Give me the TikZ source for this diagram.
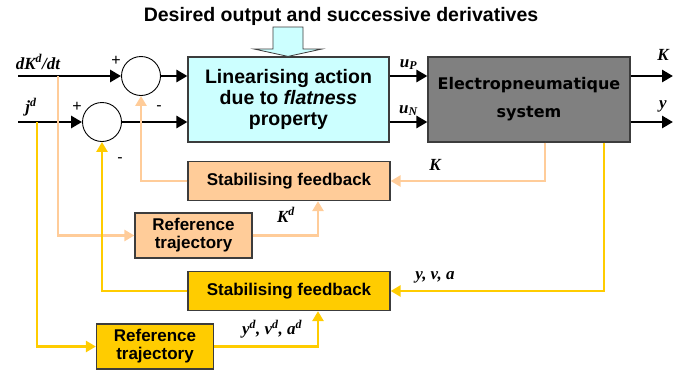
\documentclass[tikz,border=0pt]{standalone}
\usepackage{fontspec}
\setmainfont{Liberation Sans}
\newfontfamily\lblfont{Liberation Serif}
\newfontfamily\sysfont{DejaVu Sans}
\usepackage{tikz}
\usetikzlibrary{arrows.meta,positioning,calc}
\definecolor{flatcyan}{RGB}{204,255,255}
\definecolor{sysgray}{RGB}{128,128,128}
\definecolor{peachtone}{RGB}{255,204,153}
\definecolor{goldtone}{RGB}{255,204,0}
\definecolor{boxedge}{RGB}{60,60,60}

\begin{document}
\begin{tikzpicture}[
    x=1pt, y=-1pt,
    every node/.style={align=center, inner sep=0pt},
    linbox/.style={rectangle, draw=boxedge, fill=flatcyan, line width=1.2pt, minimum width=201pt, minimum height=85pt, font=\fontsize{19.5}{21}\selectfont\bfseries},
    sysbox/.style={rectangle, draw=boxedge, fill=sysgray, text=black, line width=1.2pt, minimum width=202pt, minimum height=85pt, font=\sysfont\fontsize{16}{28}\selectfont\bfseries},
    fbbox/.style={rectangle, draw=boxedge, line width=1.2pt, minimum width=202pt, minimum height=39pt, font=\fontsize{17}{19}\selectfont\bfseries},
    refbox/.style={rectangle, draw=boxedge, line width=1.2pt, minimum width=117pt, minimum height=45pt, font=\fontsize{17}{18}\selectfont\bfseries},
    sumnode/.style={circle, draw=black, line width=0.9pt, minimum size=39pt},
    blkarr/.style={-{Triangle[length=11pt,width=12pt]}, line width=2.8pt, draw=black},
    peacharr/.style={-{Triangle[length=10pt,width=11pt]}, line width=2.6pt, draw=peachtone},
    goldarr/.style={-{Triangle[length=10pt,width=11pt]}, line width=2.6pt, draw=goldtone},
    signlbl/.style={font=\fontsize{16}{16}\selectfont},
    varlbl/.style={font=\lblfont\bfseries\itshape\fontsize{17}{19}\selectfont}
]
\useasboundingbox (0,0) rectangle (674,370);

% title and hollow arrow
\node[font=\fontsize{19.5}{22}\selectfont\bfseries] (title) at (341,16) {Desired output and successive derivatives};

\node[linbox] (lin) at (288.5,99.5) {Linearising action\\due to \textit{flatness}\\property};
\node[sysbox] (elec) at (529,99.5) {Electropneumatique\\system};

\draw[boxedge, fill=flatcyan, line width=0.8pt] (273,27) -- (303,27) -- (303,49) -- (322,49) -- (lin.north -| 288,0) -- (254,49) -- (273,49) -- cycle;

% summing junctions
\node[sumnode] (c1) at (141,76) {};
\node[sumnode] (c2) at (102,122) {};
\node[signlbl] at (116,61) {+};
\node[signlbl] at (77,107) {+};
\node[signlbl] at (159,108) {-};
\node[signlbl] at (120,160) {-};

% feedback and reference blocks
\node[fbbox, fill=peachtone] (stab1) at (289,181) {Stabilising feedback};
\node[refbox, fill=peachtone] (ref1) at (193.5,235.5) {Reference\\trajectory};
\node[fbbox, fill=goldtone] (stab2) at (289,291) {Stabilising feedback};
\node[refbox, fill=goldtone] (ref2) at (155,346.5) {Reference\\trajectory};

\coordinate (inK) at (18,76);
\coordinate (inJ) at (18,122);
\coordinate (tapK) at (58,76);
\coordinate (tapJ) at (37,122);
\coordinate (outK) at (673,76);
\coordinate (outY) at (673,122);
\coordinate (fbK) at (545,181);
\coordinate (fbY) at (604,291);
\coordinate (upRef) at (318,0);

% forward path
\draw[blkarr] (inK) -- (c1);
\draw[blkarr] (inJ) -- (c2);
\draw[blkarr] (c1) -- (c1 -| lin.west);
\draw[blkarr] (c2) -- (c2 -| lin.west);
\draw[blkarr] (lin.east |- c1) -- node[varlbl, above=5pt] {u\textsubscript{P}} (elec.west |- c1);
\draw[blkarr] (lin.east |- c2) -- node[varlbl, above=5pt] {u\textsubscript{N}} (elec.west |- c2);
\draw[blkarr] (elec.east |- c1) -- (outK);
\draw[blkarr] (elec.east |- c2) -- (outY);

\node[varlbl] at (38,62) {dK\textsuperscript{d}/dt};
\node[varlbl] at (31,107) {j\textsuperscript{d}};
\node[varlbl] at (663,55) {K};
\node[varlbl] at (663,106) {y};

% peach loop
\draw[peacharr] (elec.south -| fbK) |- (stab1.east);
\draw[peacharr] (stab1.west) -| (c1.south);
\draw[peacharr] (tapK) |- (ref1.west);
\draw[peacharr] (ref1.east) -| (upRef |- stab1.south);
\node[varlbl] at (435,165) {K};
\node[varlbl] at (286,215) {K\textsuperscript{d}};

% gold loop
\draw[goldarr] (elec.south -| fbY) |- (stab2.east);
\draw[goldarr] (stab2.west) -| (c2.south);
\draw[goldarr] (tapJ) |- (ref2.west);
\draw[goldarr] (ref2.east) -| (upRef |- stab2.south);
\node[varlbl] at (435,277) {y, v, a};
\node[varlbl] at (272,329) {y\textsuperscript{d}, v\textsuperscript{d}, a\textsuperscript{d}};

\end{tikzpicture}
\end{document}
